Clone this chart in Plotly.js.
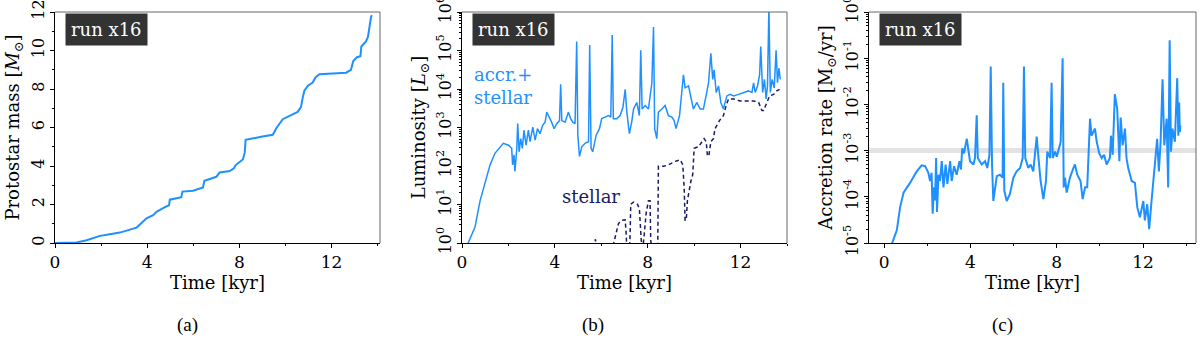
<!DOCTYPE html>
<html>
<head>
<meta charset="utf-8">
<script src="https://cdn.plot.ly/plotly-3.0.1.min.js"></script>
<style>
  html, body { margin: 0; padding: 0; background: #fff; }
  #chart { width: 1200px; height: 337px; }
</style>
</head>
<body>
<div id="chart"></div>
<script>
// (a) masse de la protoétoile
const massTime = [0, 0.94, 1.37, 1.95, 2.38, 2.81, 3.54, 3.75, 3.97, 4.26, 4.4, 4.83, 4.95, 4.98, 5.48, 5.53, 5.99, 6.42, 6.48, 7.0, 7.14, 7.58, 7.76, 7.84, 8.15, 8.23, 8.27, 9.0, 9.45, 9.6, 9.88, 10.53, 10.67, 10.75, 10.82, 10.97, 11.18, 11.3, 11.47, 12.63, 12.84, 12.94, 13.1, 13.25, 13.29, 13.49, 13.58, 13.71, 13.75];
const massValue = [0, 0.03, 0.14, 0.37, 0.46, 0.54, 0.8, 1.02, 1.28, 1.45, 1.62, 1.9, 1.96, 2.25, 2.38, 2.67, 2.72, 2.89, 3.23, 3.44, 3.66, 3.74, 3.88, 4.05, 4.34, 4.68, 5.36, 5.53, 5.62, 5.96, 6.43, 6.81, 7.06, 7.57, 7.91, 8.17, 8.34, 8.6, 8.77, 8.85, 8.99, 9.45, 9.65, 9.7, 10.21, 10.47, 10.72, 11.74, 11.83];

// (b) luminosité accrétion + stellaire
const lumTime = [0.25, 0.42, 0.56, 0.78, 0.99, 1.21, 1.42, 1.64, 1.78, 2.0, 2.14, 2.18, 2.24, 2.28, 2.36, 2.4, 2.46, 2.53, 2.6, 2.67, 2.76, 2.86, 2.93, 3.05, 3.15, 3.25, 3.36, 3.48, 3.58, 3.65, 3.76, 3.86, 3.97, 4.08, 4.2, 4.25, 4.3, 4.44, 4.58, 4.68, 4.77, 4.87, 4.94, 4.99, 5.06, 5.16, 5.3, 5.45, 5.5, 5.56, 5.63, 5.78, 5.92, 6.02, 6.16, 6.31, 6.41, 6.47, 6.52, 6.67, 6.81, 6.93, 7.03, 7.1, 7.21, 7.31, 7.39, 7.53, 7.64, 7.7, 7.76, 7.89, 8.03, 8.18, 8.25, 8.3, 8.39, 8.46, 8.61, 8.75, 8.89, 9.04, 9.14, 9.22, 9.37, 9.47, 9.54, 9.61, 9.76, 9.86, 9.97, 10.11, 10.26, 10.4, 10.52, 10.62, 10.72, 10.8, 10.86, 10.95, 11.05, 11.15, 11.26, 11.41, 11.55, 11.7, 11.91, 12.13, 12.34, 12.49, 12.56, 12.63, 12.73, 12.82, 12.87, 12.95, 13.03, 13.1, 13.16, 13.22, 13.28, 13.36, 13.45, 13.53, 13.59, 13.65, 13.71];
const lumTotal = [0.95, 1.6, 2.6, 12.6, 37, 107, 214, 316, 389, 347, 288, 107, 195, 72, 288, 1260, 234, 513, 288, 851, 347, 851, 427, 1020, 468, 933, 692, 1150, 1380, 2510, 1860, 1380, 933, 1260, 1510, 13200, 1510, 1380, 2510, 1700, 1380, 1260, 170000, 631, 178, 316, 389, 427, 138000, 288, 234, 631, 933, 1700, 1860, 2040, 1860, 251000, 1700, 1700, 2040, 3310, 9770, 2510, 692, 1380, 3020, 4470, 2040, 102000, 3020, 3720, 3020, 14500, 407000, 933, 513, 2510, 3020, 3720, 2040, 1860, 1510, 933, 2040, 12000, 23400, 10700, 12000, 6030, 3020, 4470, 3020, 3020, 8130, 14500, 85100, 17800, 31600, 8130, 12000, 4470, 3020, 6610, 7240, 6610, 7240, 8130, 8910, 8130, 14500, 8130, 12000, 23400, 126000, 8130, 17800, 5500, 12000, 1260000, 8130, 17800, 10700, 102000, 14500, 34700, 17800];

// (b) luminosité stellaire seule
const starTime = [5.6, 5.75, 5.8, 6.5, 6.52, 6.64, 6.74, 6.88, 7.03, 7.07, 7.11, 7.22, 7.27, 7.39, 7.56, 7.64, 7.7, 7.76, 7.84, 7.93, 8.03, 8.1, 8.13, 8.2, 8.43, 8.46, 8.68, 8.89, 9.18, 9.4, 9.51, 9.57, 9.61, 9.66, 9.71, 9.77, 9.86, 9.94, 10.0, 10.19, 10.33, 10.43, 10.52, 10.57, 10.63, 10.72, 10.83, 10.9, 11.09, 11.26, 11.38, 11.48, 11.7, 11.98, 12.27, 12.56, 12.78, 12.92, 12.99, 13.1, 13.25, 13.42, 13.56, 13.68];
const starLum = [0.5, 1.25, 0.5, 0.5, 0.9, 1.95, 3.2, 3.9, 4.0, 1.8, 0.5, 0.5, 10.2, 11.5, 10.2, 7.8, 2.1, 0.5, 1.45, 5.8, 12.6, 12.6, 1.2, 0.5, 0.5, 98, 98, 107, 132, 145, 107, 27.5, 3.9, 3.9, 12.6, 22.4, 40.7, 60, 288, 316, 427, 513, 427, 195, 178, 427, 513, 933, 1510, 2040, 3720, 5500, 5500, 4900, 4900, 4900, 4470, 2750, 2750, 4070, 6610, 7240, 8910, 9770];

// (c) taux d'accrétion
const accTime = [0.3, 0.59, 0.74, 0.9, 1.2, 1.51, 1.74, 1.9, 2.05, 2.13, 2.2, 2.25, 2.31, 2.36, 2.41, 2.45, 2.52, 2.59, 2.67, 2.75, 2.85, 2.93, 3.06, 3.13, 3.24, 3.36, 3.49, 3.56, 3.62, 3.7, 3.83, 3.9, 3.98, 4.14, 4.21, 4.29, 4.34, 4.52, 4.68, 4.78, 4.88, 4.94, 5.0, 5.06, 5.22, 5.37, 5.49, 5.52, 5.57, 5.68, 5.83, 5.99, 6.14, 6.3, 6.42, 6.48, 6.54, 6.68, 6.79, 6.91, 6.99, 7.07, 7.14, 7.25, 7.38, 7.5, 7.56, 7.69, 7.76, 7.81, 7.92, 8.0, 8.18, 8.27, 8.32, 8.38, 8.46, 8.61, 8.77, 8.84, 8.95, 9.1, 9.2, 9.31, 9.41, 9.54, 9.61, 9.77, 9.85, 9.97, 10.08, 10.19, 10.31, 10.46, 10.51, 10.59, 10.69, 10.8, 10.9, 10.96, 11.05, 11.16, 11.23, 11.31, 11.47, 11.62, 11.73, 11.85, 12.01, 12.08, 12.19, 12.28, 12.39, 12.5, 12.59, 12.65, 12.73, 12.81, 12.9, 12.98, 13.09, 13.16, 13.23, 13.29, 13.36, 13.47, 13.58, 13.63, 13.67, 13.7, 13.73];
const accRate = [8e-6, 1.9e-5, 5.9e-5, 1.23e-4, 2.0e-4, 3.55e-4, 4.8e-4, 4.6e-4, 3.3e-4, 2.2e-4, 3.3e-4, 4.3e-5, 1.6e-4, 8.3e-5, 6.9e-4, 4.7e-5, 3.0e-4, 2.2e-4, 5.9e-4, 1.6e-4, 5.0e-4, 1.9e-4, 5.9e-4, 2.2e-4, 4.6e-4, 3.0e-4, 5.9e-4, 3.9e-4, 1.12e-3, 8.7e-4, 1.8e-3, 1.12e-3, 5.9e-4, 5.0e-4, 6.9e-4, 5.8e-3, 6.9e-4, 5.0e-4, 5.9e-4, 4.2e-4, 8.1e-4, 6.6e-2, 5.0e-4, 8.1e-5, 2.8e-4, 3.0e-4, 2.6e-4, 2.95e-2, 1.35e-4, 8.1e-5, 1.15e-4, 2.6e-4, 3.55e-4, 4.2e-4, 6.9e-4, 6.6e-2, 6.9e-4, 4.2e-4, 5.0e-4, 3.55e-4, 9.5e-4, 2.0e-3, 8.1e-4, 2.2e-4, 8.9e-5, 2.2e-4, 9.5e-4, 6.9e-4, 2.95e-2, 6.9e-4, 9.5e-4, 7.4e-4, 1.55e-3, 0.1, 1.6e-4, 2.6e-4, 1.23e-4, 2.6e-4, 4.2e-4, 5.0e-4, 3.0e-4, 2.2e-4, 8.9e-5, 1.6e-4, 1.6e-4, 4.9e-3, 2.1e-3, 3.0e-3, 1.55e-3, 8.7e-4, 6.9e-4, 8.1e-4, 5.0e-4, 6.9e-4, 2.1e-3, 8.1e-4, 1.66e-2, 7.9e-3, 5.9e-4, 5.2e-3, 1.3e-3, 3.0e-3, 6.9e-4, 4.2e-4, 2.2e-4, 2.0e-4, 5.9e-5, 3.6e-5, 8.1e-5, 3.1e-5, 6.9e-5, 2.0e-5, 8.1e-5, 3.0e-4, 5.9e-4, 1.8e-3, 3.55e-4, 1.55e-3, 3.5e-2, 1.3e-3, 4.9e-3, 1.6e-4, 0.245, 9.5e-4, 3.0e-3, 1.55e-3, 3.7e-2, 2.1e-3, 1.1e-2, 2.5e-3, 3.5e-3];

// niveau de référence (bande grise)
const refLevel = 1e-3;
const refSpan = [-0.7, 14.45];

// ticks
const timeTicks = [0, 4, 8, 12];
const massTicks = [0, 2, 4, 6, 8, 10, 12];
const lumTicks = [1, 10, 100, 1e3, 1e4, 1e5, 1e6];
const lumTickText = ['10<sup>0</sup>', '10<sup>1</sup>', '10<sup>2</sup>', '10<sup>3</sup>', '10<sup>4</sup>', '10<sup>5</sup>', '10<sup>6</sup>'];
const accTicks = [1e-5, 1e-4, 1e-3, 1e-2, 1e-1, 1];
const accTickText = ['10<sup>-5</sup>', '10<sup>-4</sup>', '10<sup>-3</sup>', '10<sup>-2</sup>', '10<sup>-1</sup>', '10<sup>0</sup>'];

const BLUE = '#1e90ff';
const NAVY = '#1a1a66';
const FONT = 'DejaVu Serif, serif';
const FS = 17;    // graduations x
const FY = 16;    // graduations y (tournées)
const FT = 18;    // titres d'axes

const W = 1200, H = 337;
const plotTop = 12, plotBottom = 243;
const yDom = [1 - plotBottom / H, 1 - plotTop / H];
const dom = (a, b) => [a / W, b / W];

const baseX = {
    tickvals: timeTicks,
    ticks: 'outside', ticklen: 4, tickcolor: '#000',
    minor: { dtick: 2, ticks: 'outside', ticklen: 2, tickcolor: '#000' },
    showline: true, linecolor: '#000', linewidth: 1,
    showgrid: false, zeroline: false,
    tickfont: { family: FONT, size: FS, color: '#000' },
    title: { text: 'Time [kyr]', font: { family: FONT, size: FT, color: '#000' }, standoff: 3 }
};
const baseY = {
    ticks: 'outside', ticklen: 4, tickcolor: '#000',
    showline: true, linecolor: '#000', linewidth: 1,
    showgrid: false, zeroline: false, tickangle: -90,
    ticklabeloverflow: 'allow',
    tickfont: { family: FONT, size: FY, color: '#000' }
};

const traces = [
    { x: massTime, y: massValue, xaxis: 'x', yaxis: 'y', type: 'scatter', mode: 'lines',
      line: { color: BLUE, width: 2 } },
    { x: starTime, y: starLum, xaxis: 'x2', yaxis: 'y2', type: 'scatter', mode: 'lines',
      line: { color: NAVY, width: 1.5, dash: '4px,3px' } },
    { x: lumTime, y: lumTotal, xaxis: 'x2', yaxis: 'y2', type: 'scatter', mode: 'lines',
      line: { color: BLUE, width: 1.5 } },
    { x: refSpan, y: [refLevel, refLevel], xaxis: 'x3', yaxis: 'y3', type: 'scatter', mode: 'lines',
      line: { color: '#e3e3e3', width: 5 } },
    { x: accTime, y: accRate, xaxis: 'x3', yaxis: 'y3', type: 'scatter', mode: 'lines',
      line: { color: BLUE, width: 2 } }
];

const layout = {
    width: W, height: H,
    margin: { l: 0, r: 0, t: 0, b: 0 },
    showlegend: false,
    paper_bgcolor: '#fff', plot_bgcolor: '#fff',
    xaxis: Object.assign({}, baseX, { domain: dom(55, 380), range: [0, 14.1], anchor: 'y' }),
    yaxis: Object.assign({}, baseY, { domain: yDom, range: [0, 12], anchor: 'x',
        tickvals: massTicks, minor: { dtick: 1, ticks: 'outside', ticklen: 2, tickcolor: '#000' },
        title: { text: 'Protostar mass [<i>M</i><sub>⊙</sub>]', font: { family: FONT, size: FT, color: '#000' }, standoff: 4 } }),
    xaxis2: Object.assign({}, baseX, { domain: dom(462, 787), range: [0, 14.0], anchor: 'y2' }),
    yaxis2: Object.assign({}, baseY, { domain: yDom, type: 'log', range: [0, 6], anchor: 'x2',
        tickvals: lumTicks, ticktext: lumTickText,
        minor: { dtick: 'D1', ticks: 'outside', ticklen: 2, tickcolor: '#000' },
        title: { text: 'Luminosity [<i>L</i><sub>⊙</sub>]', font: { family: FONT, size: FT, color: '#000' }, standoff: 3 } }),
    xaxis3: Object.assign({}, baseX, { domain: dom(869, 1196), range: [-0.7, 14.45], anchor: 'y3' }),
    yaxis3: Object.assign({}, baseY, { domain: yDom, type: 'log', range: [-5, 0], anchor: 'x3',
        tickvals: accTicks, ticktext: accTickText,
        minor: { dtick: 'D1', ticks: 'outside', ticklen: 2, tickcolor: '#000' },
        title: { text: 'Accretion rate [M<sub>⊙</sub>/yr]', font: { family: FONT, size: FT, color: '#000' }, standoff: 3 } }),
    shapes: [],
    annotations: []
};

// bords haut et droit en gris, étiquette "run x16"
['x', 'x2', 'x3'].forEach((xa, i) => {
    const ya = ['y', 'y2', 'y3'][i];
    layout.shapes.push(
        { type: 'line', xref: xa + ' domain', yref: ya + ' domain', x0: 0, x1: 1, y0: 1, y1: 1, line: { color: '#666', width: 1 } },
        { type: 'line', xref: xa + ' domain', yref: ya + ' domain', x0: 1, x1: 1, y0: 0, y1: 1, line: { color: '#666', width: 1 } }
    );
    layout.annotations.push({
        xref: xa + ' domain', yref: ya + ' domain', x: 0.03, y: 0.995, xanchor: 'left', yanchor: 'top',
        text: 'run x16', showarrow: false, bgcolor: '#333', borderpad: 5,
        font: { family: FONT, size: FT, color: '#fff' }
    });
});

layout.annotations.push(
    { xref: 'x2 domain', yref: 'y2 domain', x: 0.03, y: 0.68, xanchor: 'left', yanchor: 'middle', align: 'left',
      text: 'accr.+<br>stellar', showarrow: false, font: { family: FONT, size: FT, color: BLUE } },
    { xref: 'x2 domain', yref: 'y2 domain', x: 0.3, y: 0.2, xanchor: 'left', yanchor: 'middle',
      text: 'stellar', showarrow: false, font: { family: FONT, size: FT, color: NAVY } }
);

// légendes (a), (b), (c)
[['(a)', 187], ['(b)', 593], ['(c)', 1002]].forEach(([t, px]) => {
    layout.annotations.push({ xref: 'paper', yref: 'paper', x: px / W, y: 1 - 325 / H,
        xanchor: 'center', yanchor: 'middle', text: t, showarrow: false,
        font: { family: 'Liberation Serif, serif', size: 19, color: '#000' } });
});

Plotly.newPlot('chart', traces, layout, { displayModeBar: false, staticPlot: true });
</script>
</body>
</html>
